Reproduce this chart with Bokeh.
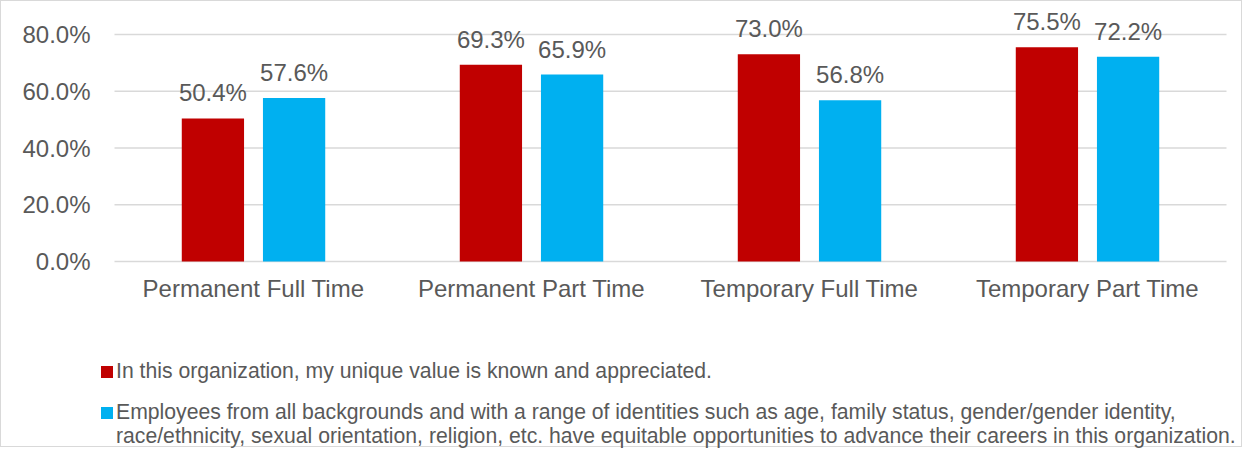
from bokeh.plotting import figure
from bokeh.models import (Range1d, FixedTicker, PrintfTickFormatter,
                          ColumnDataSource, Legend, LegendItem, LabelSet)
from bokeh.core.properties import value
from bokeh.embed import file_html
from bokeh.resources import INLINE

categories = ["Permanent Full Time", "Permanent Part Time", "Temporary Full Time", "Temporary Part Time"]
series_names = [
    "In this organization, my unique value is known and appreciated.",
    "Employees from all backgrounds and with a range of identities such as age, family status, gender/gender identity,",
    "race/ethnicity, sexual orientation, religion, etc. have equitable opportunities to advance their careers in this organization.",
]
valued = [50.4, 69.3, 73.0, 75.5]
equitable = [57.6, 65.9, 56.8, 72.2]
y_ticks = [0, 20, 40, 60, 80]

FONT = "Liberation Sans"
TXT = "#595959"
RED = "#C00000"
BLUE = "#00B0F0"

# layout (pixels)
W, H = 1242, 447
FRAME_LEFT = 98           # frame starts a little left of the first category so the legend is not clipped
FRAME_RIGHT = 1240        # frame ends near the right edge so the long legend line is not clipped
PLOT_LEFT, PLOT_RIGHT = 113, 1225
PLOT_TOP, PLOT_BOTTOM = 33, 260
CAT_PX = (PLOT_RIGHT - PLOT_LEFT) / len(categories)
PX_PER_UNIT = (PLOT_BOTTOM - PLOT_TOP) / y_ticks[-1]
OFF, BAR_W = 0.146, 0.224

idx = list(range(len(categories)))
src = ColumnDataSource(dict(
    xa=[i - OFF for i in idx],
    xb=[i + OFF for i in idx],
    a=valued,
    b=equitable,
    a_lbl=["%.1f%%" % v for v in valued],
    b_lbl=["%.1f%%" % v for v in equitable],
))

x_range = Range1d(-0.5 - (PLOT_LEFT - FRAME_LEFT) / CAT_PX,
                  len(categories) - 0.5 + (FRAME_RIGHT - PLOT_RIGHT) / CAT_PX)
y_range = Range1d(-(H - PLOT_BOTTOM) / PX_PER_UNIT, y_ticks[-1] + PLOT_TOP / PX_PER_UNIT)

p = figure(x_range=x_range, y_range=y_range, width=W, height=H,
           output_backend="svg", toolbar_location=None,
           min_border_left=FRAME_LEFT, min_border_right=W - FRAME_RIGHT,
           min_border_top=0, min_border_bottom=0)
p.styles = {"border": "1px solid #d9d9d9", "box-sizing": "border-box"}
p.outline_line_color = None
p.background_fill_color = "white"
p.xgrid.grid_line_color = None
p.ygrid.grid_line_color = None

# horizontal gridlines across the category area
p.segment(x0=[-0.5] * len(y_ticks), x1=[len(categories) - 0.5] * len(y_ticks),
          y0=y_ticks, y1=y_ticks, line_color="#d9d9d9", line_width=1.5)

r1 = p.vbar(x="xa", top="a", width=BAR_W, source=src, fill_color=RED, line_color=None)
r2 = p.vbar(x="xb", top="b", width=BAR_W, source=src, fill_color=BLUE, line_color=None)
r_blank = p.vbar(x=[], top=[], width=0.1, fill_alpha=0, line_color=None)

for col, xcol, ycol in (("a_lbl", "xa", "a"), ("b_lbl", "xb", "b")):
    p.add_layout(LabelSet(x=xcol, y=ycol, text=col, source=src,
                          text_align="center", text_baseline="alphabetic", y_offset=17,
                          text_font=value(FONT), text_font_size="24px", text_color=TXT))

p.yaxis.ticker = FixedTicker(ticks=y_ticks)
p.yaxis.formatter = PrintfTickFormatter(format="%.1f%%")
p.yaxis.axis_line_color = None
p.yaxis.major_tick_line_color = None
p.yaxis.minor_tick_line_color = None
p.yaxis.major_label_standoff = 3
p.yaxis.major_label_text_font = FONT
p.yaxis.major_label_text_font_size = "24px"
p.yaxis.major_label_text_color = TXT

p.xaxis.fixed_location = 0
p.xaxis.ticker = FixedTicker(ticks=idx)
p.xaxis.major_label_overrides = {i: c for i, c in zip(idx, categories)}
p.xaxis.axis_line_color = None
p.xaxis.major_tick_line_color = None
p.xaxis.minor_tick_line_color = None
p.xaxis.major_label_standoff = 7
p.xaxis.major_label_text_font = FONT
p.xaxis.major_label_text_font_size = "24px"
p.xaxis.major_label_text_color = TXT

common = dict(orientation="vertical", glyph_width=15, glyph_height=15, label_standoff=2,
              spacing=0, padding=0, margin=0, border_line_color=None,
              background_fill_alpha=0, label_text_font=FONT, label_text_font_size="21.2px",
              label_text_color=TXT)
legend_a = Legend(items=[LegendItem(label=series_names[0], renderers=[r1])],
                  location=(0, 65), **common)
legend_b = Legend(items=[LegendItem(label=series_names[1], renderers=[r2]),
                         LegendItem(label=series_names[2], renderers=[r_blank])],
                  location=(0, 0), **common)
p.add_layout(legend_a, "center")
p.add_layout(legend_b, "center")

open("out.html", "w").write(file_html(p, INLINE))
